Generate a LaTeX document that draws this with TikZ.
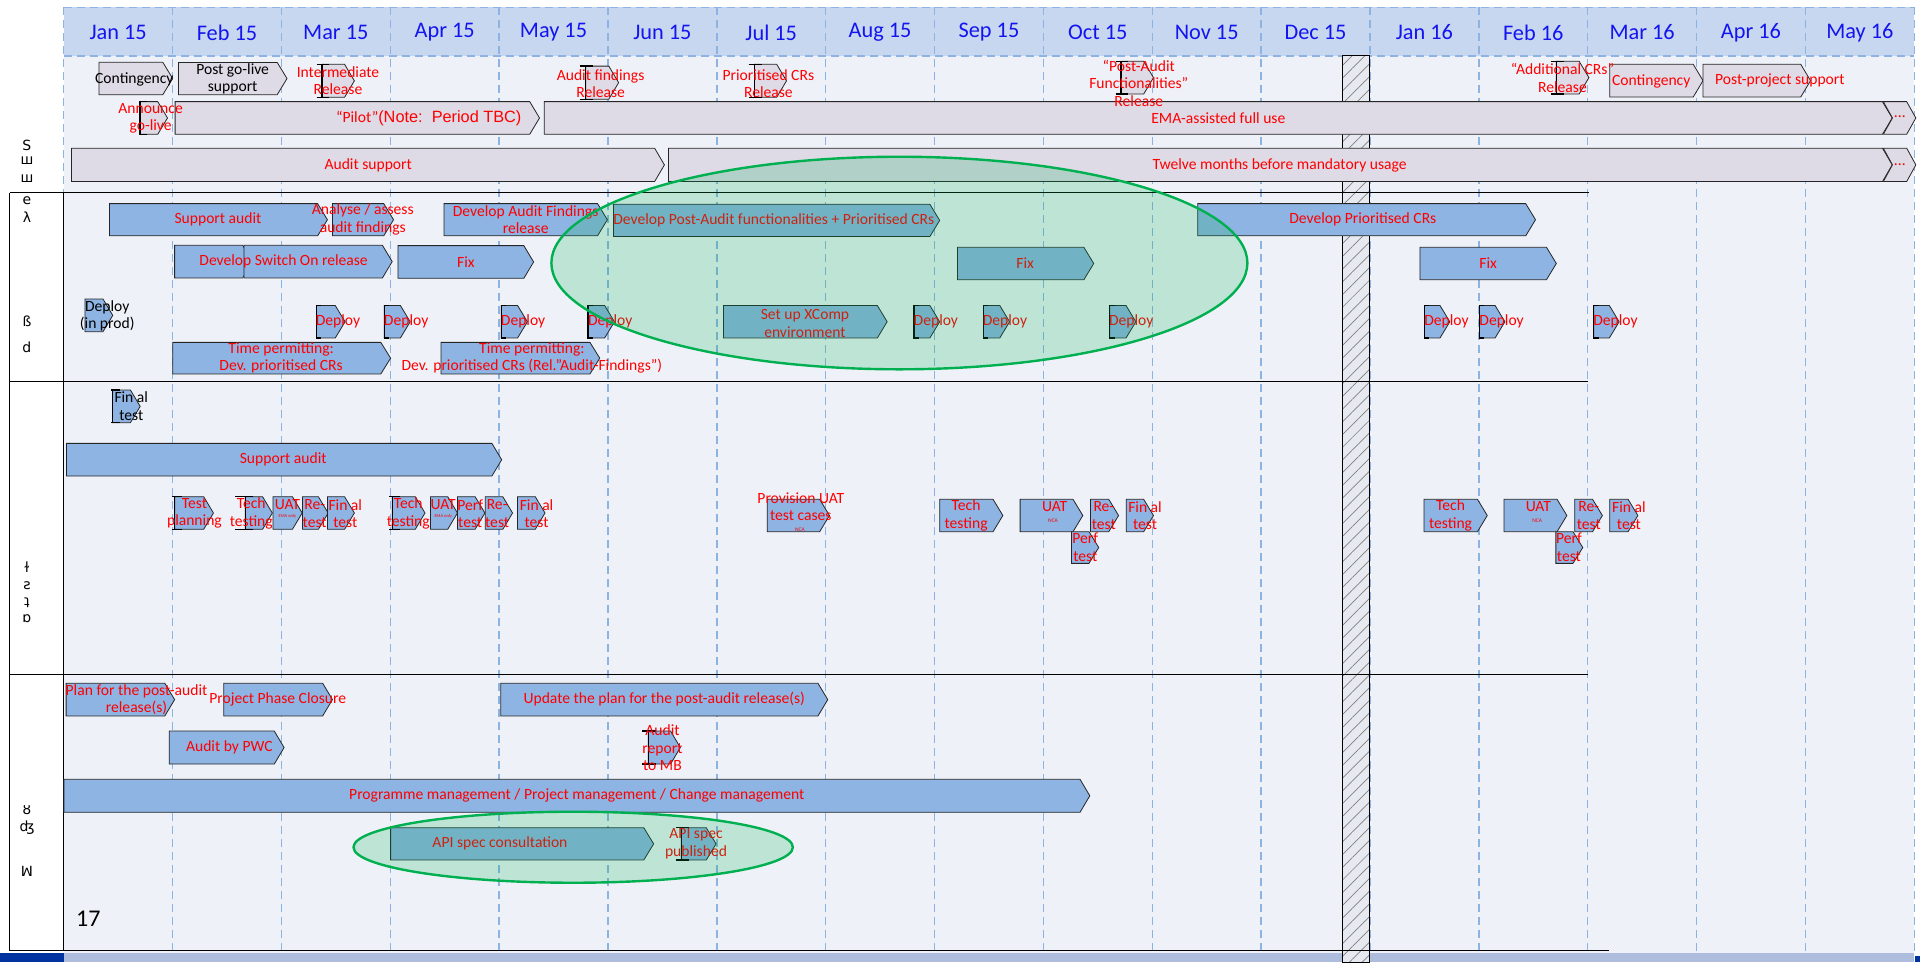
\documentclass[tikz,border=0pt]{standalone}
\usepackage{fontspec}
\setmainfont{Carlito}
\newfontfamily\arialf{Liberation Sans}
\newfontfamily\djv{DejaVu Sans}
\usetikzlibrary{patterns.meta}
\pgfdeclarelayer{bars}
\pgfdeclarelayer{top}
\pgfsetlayers{bars,main,top}
\definecolor{bgc}{HTML}{EEF2F8}
\definecolor{hdr}{HTML}{C6D7EF}
\definecolor{gridc}{HTML}{8DB3E2}
\definecolor{lav}{HTML}{DEDAE6}
\definecolor{barc}{HTML}{8EB4E3}
\definecolor{grn}{HTML}{00B050}
\definecolor{monc}{HTML}{1414F0}
\definecolor{botl}{HTML}{AEBDDD}
\definecolor{botd}{HTML}{0033A0}
\definecolor{hatchbg}{HTML}{E6EAF0}
\tikzset{
  lavB/.style={draw=black!85, fill=lav, line width=0.8pt},
  barB/.style={draw=black!85, fill=barc, line width=0.8pt},
  lbl/.style={text=red, font=\fontsize{15.6}{17.4}\selectfont, align=center, inner sep=0pt},
  lblk/.style={lbl, text=black},
  monlbl/.style={text=monc, font=\fontsize{22.3}{24}\selectfont, inner sep=0pt},
  gridline/.style={draw=gridc, line width=1.4pt, dash pattern=on 8pt off 5pt},
  secline/.style={draw=black, line width=1pt},
  ell/.style={draw=grn, line width=2.4pt, fill=grn, fill opacity=0.2},
  gl/.style={font=\djv\fontsize{14}{14}\selectfont, inner sep=0pt, text=black},
  tiny/.style={text=red, font=\fontsize{4.5}{5}\selectfont, inner sep=0pt},
}
% task bar: [style]{x1}{x2}{y1}{y2}
\newcommand{\tsk}[5][barB]{\begin{pgfonlayer}{bars}\path[#1] (#2,#4) -- ({#3-8},#4) -- (#3,{(#4+#5)/2}) -- ({#3-8},#5) -- (#2,#5) -- cycle;\end{pgfonlayer}}
% milestone: [style]{tickstart}{x1}{x2}{y1}{y2}
\newcommand{\mst}[6][barB]{\begin{pgfonlayer}{bars}\path[#1] (#3,#5) -- ({#4-8},#5) -- (#4,{(#5+#6)/2}) -- ({#4-8},#6) -- (#3,#6) -- cycle;
 \draw[line width=1.3pt] (#2,#5) -- ({#3+6},#5) (#2,#6) -- ({#3+6},#6) (#3,#5) -- (#3,#6);\end{pgfonlayer}}
% chevron: [style]{x1}{x2}{y1}{y2}
\newcommand{\chv}[5][lavB]{\begin{pgfonlayer}{bars}\path[#1] (#2,#4) -- ({#3-7.5},#4) -- (#3,{(#4+#5)/2}) -- ({#3-7.5},#5) -- (#2,#5) -- ({#2+7.5},{(#4+#5)/2}) -- cycle;\end{pgfonlayer}}
\begin{document}
\begin{tikzpicture}[x=1.2245pt, y=-1.2245pt]
\useasboundingbox (0,0) rectangle (1568,786);
\begin{pgfonlayer}{bars}
\fill[white] (0,0) rectangle (1568,786);
% chart background
\fill[bgc] (52,45.7) rectangle (1563,778);
% header
\fill[hdr] (52,6) rectangle (1563,45.7);
\draw[gridline] (52,6) -- (1563,6) (52,45.7) -- (1563,45.7);
\foreach \k in {0,...,17} {\draw[gridline] ({52+88.9*\k},6) -- ({52+88.9*\k},778);}
% bottom band
\fill[botl] (52,778) rectangle (1563,786);
\fill[botd] (0,778) rectangle (52,786);
\fill[botd] (1564,781) rectangle (1568,786);
% hatched holiday column
\path[fill=hatchbg] (1096.3,45.7) rectangle (1118.6,786);
\path[pattern={Lines[angle=45,distance=9pt,line width=0.7pt]}, pattern color=gray] (1096.3,45.7) rectangle (1118.6,786);
\draw[line width=1pt] (1096.3,45.7) rectangle (1118.6,786);
% section lines and label column
\draw[secline] (8,157.3) -- (1298,157.3);
\draw[secline] (8,311.7) -- (1297,311.7);
\draw[secline] (8,551.2) -- (1297,551.2);
\draw[secline] (8,776.4) -- (1313.6,776.4);
\draw[secline] (8,157.3) -- (8,776.4);
\draw[secline] (52,157.3) -- (52,776.4);
\end{pgfonlayer}
\foreach \m [count=\i from 0] in {Jan 15,Feb 15,Mar 15,Apr 15,May 15,Jun 15,Jul 15,Aug 15,Sep 15,Oct 15,Nov 15,Dec 15,Jan 16,Feb 16,Mar 16,Apr 16,May 16}
  {\node[monlbl] (m\i) at ({52+88.9*\i+44.45},26.5) {\m};}

% ===== top section =====
\tsk[lavB]{80.8}{141}{50.9}{77.3}
\node[lblk] (t1) at (109.7,64.5) {Contingency};
\tsk[lavB]{145.7}{234.4}{51}{77.3}
\node[lblk] (t2) at (190,64.4) {Post go-live\\support};
\mst[lavB]{258.5}{262.9}{289.4}{52.5}{79.5}
\node[lbl] (t3) at (276,65.7) {Intermediate\\Release};
\mst[lavB]{473.6}{478.4}{505.2}{54}{81}
\node[lbl] (t4) at (490.5,68.5) {Audit findings\\Release};
\mst[lavB]{611.4}{616.2}{642.3}{52.5}{79.5}
\node[lbl] (t5) at (627.5,68.5) {Prioritised CRs\\Release};
\mst[lavB]{911}{915.5}{942}{50}{76.8}
\node[lbl] (t6) at (930,68) {“Post-Audit\\Functionalities”\\Release};
\mst[lavB]{1266.3}{1270.9}{1297.6}{50}{76.8}
\node[lbl] (t7) at (1276,63.5) {“Additional CRs”\\Release};
\tsk[lavB]{1314.6}{1390.8}{52.5}{79.2}
\node[lbl] (t8) at (1348.5,66.7) {Contingency};
\tsk[lavB]{1390.8}{1478.6}{52.5}{79.2}
\node[lbl] (t9) at (1453.6,65.9) {Post-project support};
\mst[lavB]{113.8}{114.4}{136.8}{83}{109.7}
\node[lbl] (t10) at (123,96.8) {Announce\\go-live};
\tsk[lavB]{143}{440.6}{83}{109.7}
\node[lbl, anchor=east] (t11) at (426,96.6) {“Pilot”{\arialf\fontsize{16.3}{18}\selectfont(Note:\ \ Period TBC)}};
\tsk[lavB]{444.4}{1545.3}{83}{109.7}
\node[lbl] (t12) at (995,96.6) {EMA-assisted full use};
\chv[lavB]{1538}{1564.6}{83}{109.7}
\node[lbl] (t13) at (1551.5,95.5) {...};
\tsk[lavB]{58.4}{542.6}{121}{148.3}
\node[lbl] (t14) at (300.7,135.3) {Audit support};
\tsk[lavB]{546}{1545.3}{121}{148.3}
\node[lbl] (t15) at (1045,135.3) {Twelve months before mandatory usage};
\chv[lavB]{1538}{1564.6}{121}{148.3}
\node[lbl] (t16) at (1551.5,134.2) {...};

% ===== dev section =====
\tsk{89.4}{267.4}{166.3}{192.6}
\node[lbl] (d1) at (178,179.3) {Support audit};
\tsk{271.5}{321.4}{166.3}{192.6}
\node[lbl] (d2) at (296.3,179.3) {Analyse / assess\\audit findings};
\tsk{362.6}{496}{166.3}{192.6}
\node[lbl] (d3) at (429.3,179.3) {Develop Audit Findings\\release};
\tsk{501}{767.4}{166.8}{193.2}
\node[lbl] (d4) at (632,180) {Develop Post-Audit functionalities + Prioritised CRs};
\tsk{978.1}{1254}{166.3}{192.6}
\node[lbl] (d5) at (1113,179.3) {Develop Prioritised CRs};
\tsk{142.6}{206.2}{200.3}{227}
\tsk{199.3}{320.3}{200.3}{227}
\node[lbl] (d6) at (231.6,213.6) {Develop Switch On release};
\tsk{325}{435.8}{200.6}{227.3}
\node[lbl] (d7) at (380.5,214) {Fix};
\tsk{781.9}{893.2}{202}{228.4}
\node[lbl] (d8) at (837.2,215) {Fix};
\tsk{1159.6}{1271}{202}{228.4}
\node[lbl] (d9) at (1215.3,215) {Fix};
\tsk{69.4}{92.1}{244.2}{270.9}
\node[lblk] (d10) at (87.6,257.9) {Deploy\\(in prod)};
\foreach \a/\b/\c [count=\j] in {258.5/281.8/276, 313.8/335/331.7, 409.3/430.7/427.2, 480.2/501.8/498.4, 746.5/767.4/764.3, 803.2/824.5/820.7, 906.3/927.6/923.8, 1163.3/1184/1181.3, 1208.3/1229/1226.3, 1301.6/1322.3/1319.3}
{\begin{pgfonlayer}{bars}
 \path[barB] (\a,249.5) -- ({\b-8},249.5) -- (\b,262.8) -- ({\b-8},276) -- (\a,276) -- cycle;
 \draw[line width=1.3pt] ({\a-0.5},249.5) -- ({\a+4},249.5) ({\a-0.5},276) -- ({\a+4},276) (\a,249.5) -- (\a,276);
 \end{pgfonlayer}
 \node[lbl] (dep\j) at (\c,262.5) {Deploy};}
\tsk{590.8}{724.5}{249.5}{276}
\node[lbl] (d11) at (657.4,264.3) {Set up XComp\\environment};
\tsk{141}{319}{279.6}{305.4}
\node[lbl] (d12) at (229.6,292.4) {Time permitting:\\Dev. prioritised CRs};
\tsk{360.2}{489.8}{279.6}{305.4}
\node[lbl] (d13) at (434.4,292.4) {Time permitting:\\Dev. prioritised CRs (Rel.”Audit-Findings”)};

% ===== test section =====
\mst{91}{91.8}{114.5}{318.5}{345.2}
\node[lblk] (s1) at (107.2,331.8) {Fin al\\test};
\tsk{54.3}{409.7}{362.1}{388.8}
\node[lbl] (s2) at (231.3,375.5) {Support audit};
\mst{140.5}{142.6}{174.3}{405.6}{432.3}
\node[lbl] (s3) at (158.8,419.4) {Test\\planning};
\mst{191.8}{200.4}{222.4}{405.6}{432.3}
\node[lbl] (s4) at (205.2,419.4) {Tech\\testing};
\tsk{223}{246.8}{405.6}{432.3}
\node[lbl] (s5) at (234.7,411.9) {UAT};
\node[tiny] (s5b) at (234.7,422) {EMA only};
\tsk{247.1}{268}{405.6}{432.3}
\node[lbl] (s6) at (257,419.4) {Re-\\test};
\tsk{267.4}{289.4}{405.6}{432.3}
\node[lbl] (s7) at (282,419.4) {Fin al\\test};
\mst{318}{320.3}{347.1}{405.6}{432.3}
\node[lbl] (s8) at (333.4,419.4) {Tech\\testing};
\tsk{351.6}{373.6}{405.6}{432.3}
\node[lbl] (s9) at (362,411.9) {UAT};
\node[tiny] (s9b) at (362,422) {EMA only};
\tsk{373.6}{396}{405.6}{432.3}
\node[lbl] (s10) at (384,419.4) {Perf\\test};
\tsk{396.3}{418.6}{405.6}{432.3}
\node[lbl] (s11) at (406,419.4) {Re-\\test};
\tsk{422.7}{445.1}{405.6}{432.3}
\node[lbl] (s12) at (438.2,419.4) {Fin al\\test};
\tsk{626.5}{677.4}{407.8}{434.2}
\node[lbl] (s13) at (654,413.7) {Provision UAT\\test cases};
\node[tiny, font=\fontsize{5.5}{6}\selectfont] (s13b) at (653.3,432.3) {NCA};
\tsk{767.4}{819}{407.8}{434.2}
\node[lbl] (s14) at (789,421) {Tech\\testing};
\tsk{833.1}{884.3}{407.8}{434.2}
\node[lbl] (s15) at (861.3,413.8) {UAT};
\node[tiny, font=\fontsize{5.5}{6}\selectfont] (s15b) at (860,425.2) {NCA};
\tsk{890.5}{913.5}{407.8}{434.2}
\node[lbl] (s16) at (901.5,421) {Re-\\test};
\tsk{919.7}{942}{407.8}{434.2}
\node[lbl] (s17) at (935.1,421) {Fin al\\test};
\tsk{875}{897.3}{434.2}{460.1}
\node[lbl] (s18) at (886.3,447) {Perf\\test};
\tsk{1163}{1214.6}{407.8}{434.2}
\node[lbl] (s19) at (1184.6,421) {Tech\\testing};
\tsk{1228.3}{1279.6}{407.8}{434.2}
\node[lbl] (s20) at (1256.3,413.8) {UAT};
\node[tiny, font=\fontsize{5.5}{6}\selectfont] (s20b) at (1255.3,425.2) {NCA};
\tsk{1286}{1308.6}{407.8}{434.2}
\node[lbl] (s21) at (1297.5,421) {Re-\\test};
\tsk{1314.6}{1337.6}{407.8}{434.2}
\node[lbl] (s22) at (1330.3,421) {Fin al\\test};
\tsk{1270.6}{1292.6}{434.2}{460.1}
\node[lbl] (s23) at (1281.3,447) {Perf\\test};

% ===== PM section =====
\tsk{54}{142.6}{558}{584.7}
\node[lbl] (p1) at (111.5,571.3) {Plan for the post-audit\\release(s)};
\tsk{182.8}{271.5}{558}{584.7}
\node[lbl] (p2) at (226.8,571) {Project Phase Closure};
\tsk{409}{676}{558}{584.7}
\node[lbl] (p3) at (542.5,571) {Update the plan for the post-audit release(s)};
\tsk{138.2}{232}{597}{624}
\node[lbl] (p4) at (187.3,610.3) {Audit by PWC};
\mst{524.6}{529.4}{555.6}{597}{624}
\node[lbl] (p5) at (541,610.6) {Audit\\report\\to MB};
\tsk{52.2}{890}{636.4}{663.4}
\node[lbl] (p6) at (471,649.9) {Programme management / Project management / Change management};
\tsk{319}{533.8}{676}{702.3}
\node[lbl] (p7) at (408.3,689) {API spec consultation};
\mst{552}{556.4}{584.8}{676}{702.3}
\node[lbl] (p8) at (568.4,689) {API spec\\published};
\node[lblk, font=\fontsize{24}{26}\selectfont] (p9) at (72.2,750) {17};

% ===== label column glyphs =====
\node[gl] (g1) at (22,119) {S};
\node[gl] (g2) at (22,131) {ш};
\node[gl] (g3) at (22,146) {ш};
\node[gl] (g4) at (22,164) {e};
\node[gl] (g5) at (22,177) {λ};
\node[gl] (g6) at (22,262) {ß};
\node[gl] (g7) at (22,284) {d};
\node[gl] (g8) at (22,463) {ɫ};
\node[gl] (g9) at (22,478) {ƨ};
\node[gl] (g10) at (22,492) {ʇ};
\node[gl] (g11) at (22,505) {ɒ};
\node[gl] (g12) at (22,662) {ȣ};
\node[gl] (g13) at (22,676) {ʤ};
\node[gl] (g14) at (22,712) {ꟽ};

% ===== highlight ellipses =====
\begin{pgfonlayer}{top}
\path[ell] (734.5,214.8) ellipse [x radius=284.2, y radius=86.8];
\path[ell] (468.1,691.9) ellipse [x radius=179.4, y radius=29];
\end{pgfonlayer}
\end{tikzpicture}
\end{document}
